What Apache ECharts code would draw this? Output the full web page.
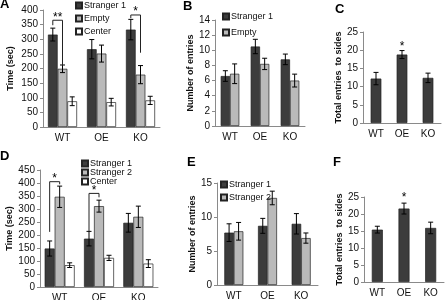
<!DOCTYPE html>
<html>
<head>
<meta charset="utf-8">
<script src="https://cdn.jsdelivr.net/npm/echarts@6/dist/echarts.min.js"></script>
<style>
html,body{margin:0;padding:0;background:#fff;}
#main{width:448px;height:300px;}
</style>
</head>
<body>
<div id="main"></div>
<script>
// 组别
var groups = ['WT', 'OE', 'KO'];

// A 面板: time (sec)
var aStranger1 = [316, 266, 333];
var aStranger1Err = [22, 33, 35];
var aEmpty = [199, 251, 179];
var aEmptyErr = [13, 29, 31];
var aCenter = [88, 85, 91];
var aCenterErr = [15, 13, 14];

// B 面板: number of entries
var bStranger1 = [6.6, 10.5, 8.8];
var bStranger1Err = [0.7, 0.95, 0.7];
var bEmpty = [6.9, 8.2, 6.0];
var bEmptyErr = [1.3, 0.75, 0.85];

// C 面板: total entries to sides
var cTotal = [12.2, 18.8, 12.4];
var cTotalErr = [1.7, 1.1, 1.3];

// D 面板
var dStranger1 = [148, 186, 247];
var dStranger1Err = [29, 28, 36];
var dStranger2 = [347, 311, 270];
var dStranger2Err = [41, 23, 41];
var dCenter = [84, 112, 90];
var dCenterErr = [9, 10, 15];

// E 面板
var eStranger1 = [7.7, 8.7, 9.0];
var eStranger1Err = [1.3, 1.1, 1.5];
var eStranger2 = [7.9, 12.8, 6.9];
var eStranger2Err = [1.3, 1.0, 0.75];

// F 面板
var fTotal = [15.4, 21.6, 15.9];
var fTotalErr = [1.0, 1.6, 1.7];

// 显著性标记: [组, 起始柱, 结束柱, 横线值, 左端值, 右端值]
var aBrackets = [[0, 0, 1, 365, 348, 210], [2, 0, 1, 383, 372, 254]];
var aStars = ['**', '*'];
var dBrackets = [[0, 0, 1, 405, 212, 395], [1, 0, 1, 360, 215, 345]];
var dStars = ['*', '*'];
var cStars = [[1, 22]];
var fStars = [[1, 26]];

var DARK = '#3c3c3c', GREY = '#bababa', WHITE = '#ffffff';
var FONT = 'Liberation Sans, Arial, sans-serif';

var panels = [
	{ letter: 'A', lx: 0, ly: -2, grid: { left: 43, top: 10, width: 117, height: 117 }, max: 400, interval: 50, name: 'Time (sec)', nameGap: 28 },
	{ letter: 'B', lx: 183, ly: 0, grid: { left: 215, top: 20, width: 90, height: 106 }, max: 14, interval: 2, name: 'Number of entries', nameGap: 15 },
	{ letter: 'C', lx: 335, ly: 3, grid: { left: 363, top: 32, width: 78, height: 91 }, max: 25, interval: 5, name: 'Total entries  to sides', nameGap: 15 },
	{ letter: 'D', lx: 0, ly: 150, grid: { left: 40, top: 170, width: 118, height: 117 }, max: 450, interval: 50, name: 'Time (sec)', nameGap: 25 },
	{ letter: 'E', lx: 187, ly: 156, grid: { left: 217, top: 183, width: 101, height: 102 }, max: 15, interval: 5, name: 'Number of entries', nameGap: 17 },
	{ letter: 'F', lx: 333, ly: 156, grid: { left: 364, top: 197, width: 80, height: 85 }, max: 25, interval: 5, name: 'Total entries  to sides', nameGap: 15 }
];

var grids = [], xAxes = [], yAxes = [], titles = [], series = [];
panels.forEach(function (p, i) {
	grids.push(Object.assign({ outerBoundsMode: 'none' }, p.grid));
	titles.push({ text: p.letter, left: p.lx, top: p.ly, padding: 0, textStyle: { fontSize: 13, fontWeight: 'bold', color: '#000', fontFamily: FONT } });
	xAxes.push({
		type: 'category', gridIndex: i, data: groups,
		axisLine: { lineStyle: { color: '#8a8a8a', width: 1 } },
		axisTick: { length: 3, lineStyle: { color: '#8a8a8a' } },
		axisLabel: { fontSize: 10, color: '#111', margin: 6, fontFamily: FONT }
	});
	yAxes.push({
		type: 'value', gridIndex: i, min: 0, max: p.max, interval: p.interval,
		name: p.name, nameLocation: 'middle', nameRotate: 90, nameGap: p.nameGap,
		nameTextStyle: { fontSize: 9, fontWeight: 'bold', color: '#111', fontFamily: FONT },
		axisLine: { show: true, lineStyle: { color: '#8a8a8a', width: 1 } },
		axisTick: { show: true, length: 3, lineStyle: { color: '#8a8a8a' } },
		splitLine: { show: false },
		axisLabel: { fontSize: 10, color: '#111', margin: 5, fontFamily: FONT }
	});
});

function bar(name, data, color, idx, bw) {
	return {
		type: 'bar', name: name, data: data, xAxisIndex: idx, yAxisIndex: idx,
		barWidth: bw, barGap: '0%', animation: false,
		itemStyle: { color: color, borderColor: '#222', borderWidth: 0.7 }
	};
}

// 误差线 (custom series, 用坐标轴换算)
function errorBars(idx, bw, lists) {
	var n = lists.length, items = [];
	lists.forEach(function (l, b) {
		for (var c = 0; c < l[0].length; c++) items.push([c, b, l[0][c], l[1][c]]);
	});
	return {
		type: 'custom', xAxisIndex: idx, yAxisIndex: idx, data: items, z: 5, animation: false, silent: true, clip: false,
		renderItem: function (params, api) {
			var c = api.value(0), b = api.value(1), v = api.value(2), e = api.value(3);
			var x = api.coord([c, v])[0] + (b - (n - 1) / 2) * bw;
			var y1 = api.coord([c, v + e])[1], y0 = api.coord([c, v - e])[1];
			var st = { stroke: '#000', lineWidth: 1 };
			return { type: 'group', children: [
				{ type: 'line', shape: { x1: x, y1: y0, x2: x, y2: y1 }, style: st },
				{ type: 'line', shape: { x1: x - 2.5, y1: y1, x2: x + 2.5, y2: y1 }, style: st },
				{ type: 'line', shape: { x1: x - 2.5, y1: y0, x2: x + 2.5, y2: y0 }, style: st }
			] };
		}
	};
}

// 括号与星号
function brackets(idx, bw, n, list, stars) {
	return {
		type: 'custom', xAxisIndex: idx, yAxisIndex: idx, data: list, z: 6, animation: false, silent: true, clip: false,
		renderItem: function (params, api) {
			var c = api.value(0);
			var xa = api.coord([c, 0])[0] + (api.value(1) - (n - 1) / 2) * bw;
			var xb = api.coord([c, 0])[0] + (api.value(2) - (n - 1) / 2) * bw;
			var yl = api.coord([c, api.value(3)])[1];
			var ya = api.coord([c, api.value(4)])[1];
			var yb = api.coord([c, api.value(5)])[1];
			return { type: 'group', children: [
				{ type: 'polyline', shape: { points: [[xa, ya], [xa, yl], [xb, yl], [xb, yb]] }, style: { stroke: '#222', lineWidth: 1, fill: null } },
				{ type: 'text', x: (xa + xb) / 2, y: yl + 3, style: { text: stars[params.dataIndex], fill: '#000', align: 'center', verticalAlign: 'bottom', font: '12px ' + FONT } }
			] };
		}
	};
}

function starText(idx, list) {
	return {
		type: 'custom', xAxisIndex: idx, yAxisIndex: idx, data: list, z: 6, animation: false, silent: true, clip: false,
		renderItem: function (params, api) {
			var pt = api.coord([api.value(0), api.value(1)]);
			return { type: 'text', x: pt[0], y: pt[1] + 4, style: { text: '*', fill: '#000', align: 'center', verticalAlign: 'middle', font: '12px ' + FONT } };
		}
	};
}

series.push(bar('Stranger 1', aStranger1, DARK, 0, 9.7), bar('Empty', aEmpty, GREY, 0, 9.7), bar('Center', aCenter, WHITE, 0, 9.7));
series.push(errorBars(0, 9.7, [[aStranger1, aStranger1Err], [aEmpty, aEmptyErr], [aCenter, aCenterErr]]));
series.push(brackets(0, 9.7, 3, aBrackets, aStars));

series.push(bar('Stranger 1', bStranger1, DARK, 1, 9.3), bar('Empty', bEmpty, GREY, 1, 9.3));
series.push(errorBars(1, 9.3, [[bStranger1, bStranger1Err], [bEmpty, bEmptyErr]]));

series.push(bar('Total', cTotal, DARK, 2, 10.7));
series.push(errorBars(2, 10.7, [[cTotal, cTotalErr]]));
series.push(starText(2, cStars));

series.push(bar('Stranger 1', dStranger1, DARK, 3, 10), bar('Stranger 2', dStranger2, GREY, 3, 10), bar('Center', dCenter, WHITE, 3, 10));
series.push(errorBars(3, 10, [[dStranger1, dStranger1Err], [dStranger2, dStranger2Err], [dCenter, dCenterErr]]));
series.push(brackets(3, 10, 3, dBrackets, dStars));

series.push(bar('Stranger 1', eStranger1, DARK, 4, 9.5), bar('Stranger 2', eStranger2, GREY, 4, 9.5));
series.push(errorBars(4, 9.5, [[eStranger1, eStranger1Err], [eStranger2, eStranger2Err]]));

series.push(bar('Total', fTotal, DARK, 5, 11));
series.push(errorBars(5, 11, [[fTotal, fTotalErr]]));
series.push(starText(5, fStars));

function legend(left, top, gap, names) {
	return {
		left: left, top: top, orient: 'vertical', data: names, itemWidth: 6, itemHeight: 6, itemGap: gap,
		icon: 'rect', padding: 0, selectedMode: false,
		textStyle: { fontSize: 9, lineHeight: 8, color: '#111', padding: [0, 0, 0, -3], fontFamily: FONT }
	};
}

var chart = echarts.init(document.getElementById('main'), null, { renderer: 'canvas' });
chart.setOption({
	animation: false,
	textStyle: { fontFamily: FONT },
	title: titles,
	grid: grids,
	xAxis: xAxes,
	yAxis: yAxes,
	legend: [
		legend(75, 1, 4, ['Stranger 1', 'Empty', 'Center']),
		legend(222, 12, 7, ['Stranger 1', 'Empty']),
		legend(81, 159, 0, ['Stranger 1', 'Stranger 2', 'Center']),
		legend(220, 180, 4, ['Stranger 1', 'Stranger 2'])
	],
	series: series
});
</script>
</body>
</html>
